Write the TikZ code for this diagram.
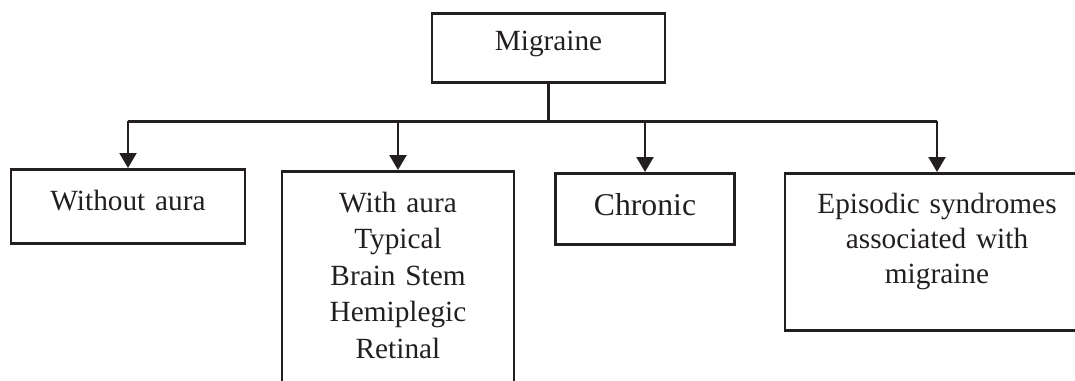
\documentclass[tikz,border=0pt]{standalone}
\usepackage{fontspec}
\setmainfont{Liberation Serif}
\usetikzlibrary{arrows.meta}
\definecolor{ink}{RGB}{35,31,32}
\tikzset{
  box/.style={draw=ink, line width=2.7pt, text=ink, inner sep=0pt, anchor=north,
    align=center, font=\fontsize{29.3}{36.5}\selectfont},
  link/.style={draw=ink, line width=3pt},
  branch/.style={draw=ink, line width=2.2pt, -{Triangle[length=15pt,width=17pt]}},
}
\begin{document}
\begin{tikzpicture}[x=1pt, y=-1pt, line join=miter]
	\useasboundingbox (0,0) rectangle (1075,380);
	\clip (0,0) rectangle (1075,380);
	% top of the tree
	\node[box, text width=233pt, text height=37pt, text depth=32pt] (mig) at (548.5,12) {Migraine};
	% the four kinds
	\node[box, text width=234pt, text height=41.6pt, text depth=32.4pt] (wo) at (128,168) {Without aura};
	\node[box, text width=232pt, text height=41pt, text depth=230pt] (aura) at (398,170)
		{With aura\\Typical\\Brain Stem\\Hemiplegic\\Retinal};
	\node[box, text width=179pt, text height=42pt, text depth=29pt, font=\fontsize{31.7}{38}\selectfont] (chron) at (645,172) {Chronic};
	\node[box, text width=304pt, text height=40pt, text depth=117pt, font=\fontsize{29.3}{35}\selectfont] (epi) at (937,172)
		{Episodic syndromes\\associated with\\migraine};
	\coordinate (hub) at (548.5,121);
	\draw[link] (mig.south) -- (hub);
	\draw[link] (wo.north |- hub) -- (epi.north |- hub);
	\foreach \n in {wo,aura,chron,epi}
	\draw[branch] (\n.north |- hub) -- (\n.north);
\end{tikzpicture}
\end{document}
